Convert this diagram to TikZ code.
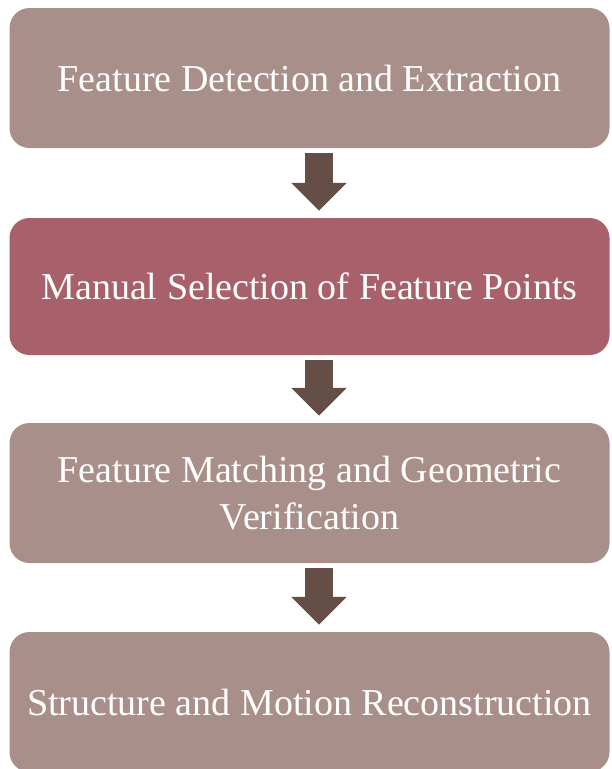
\documentclass[tikz,border=0pt]{standalone}
\usepackage{fontspec}
\setmainfont{Liberation Serif}
\usepackage{tikz}
\usetikzlibrary{arrows.meta}
\usetikzlibrary{calc}

\definecolor{stepgrey}{HTML}{A98F8A}
\definecolor{steprose}{HTML}{A8616B}
\definecolor{arrowbrown}{HTML}{654E46}

\begin{document}
\begin{tikzpicture}[x=1pt, y=-1pt,
        node_style/.style={rectangle,rounded corners=20pt,fill=stepgrey,text=white,align=center,inner sep=0pt,
            minimum width=600pt,minimum height=140pt,font=\fontsize{38}{47}\selectfont},
        selected_node_style/.style={node_style,fill=steprose,minimum height=137pt},
        edge_style/.style={draw=arrowbrown, line width=28pt, -{Triangle[width=54pt,length=28pt]},
            shorten <=5pt, shorten >=7pt}]

        \useasboundingbox (0,0) rectangle (611,769);

        \node [node_style](n1) at (309.5,78) {Feature Detection and Extraction};

        \node [selected_node_style](n2) at (309.5,286.5) {Manual Selection of Feature Points};

        \node [node_style](n3) at (309.5,493) {Feature Matching and Geometric\\Verification};

        \node [node_style](n4) at (309.5,702) {Structure and Motion Reconstruction};

        \draw [edge_style] ([xshift=9.5pt]n1.south) -- ([xshift=9.5pt]n2.north);

        \draw [edge_style] ([xshift=9.5pt]n2.south) -- ([xshift=9.5pt]n3.north);

        \draw [edge_style] ([xshift=9.5pt]n3.south) -- ([xshift=9.5pt]n4.north);

        \end{tikzpicture}
\end{document}
